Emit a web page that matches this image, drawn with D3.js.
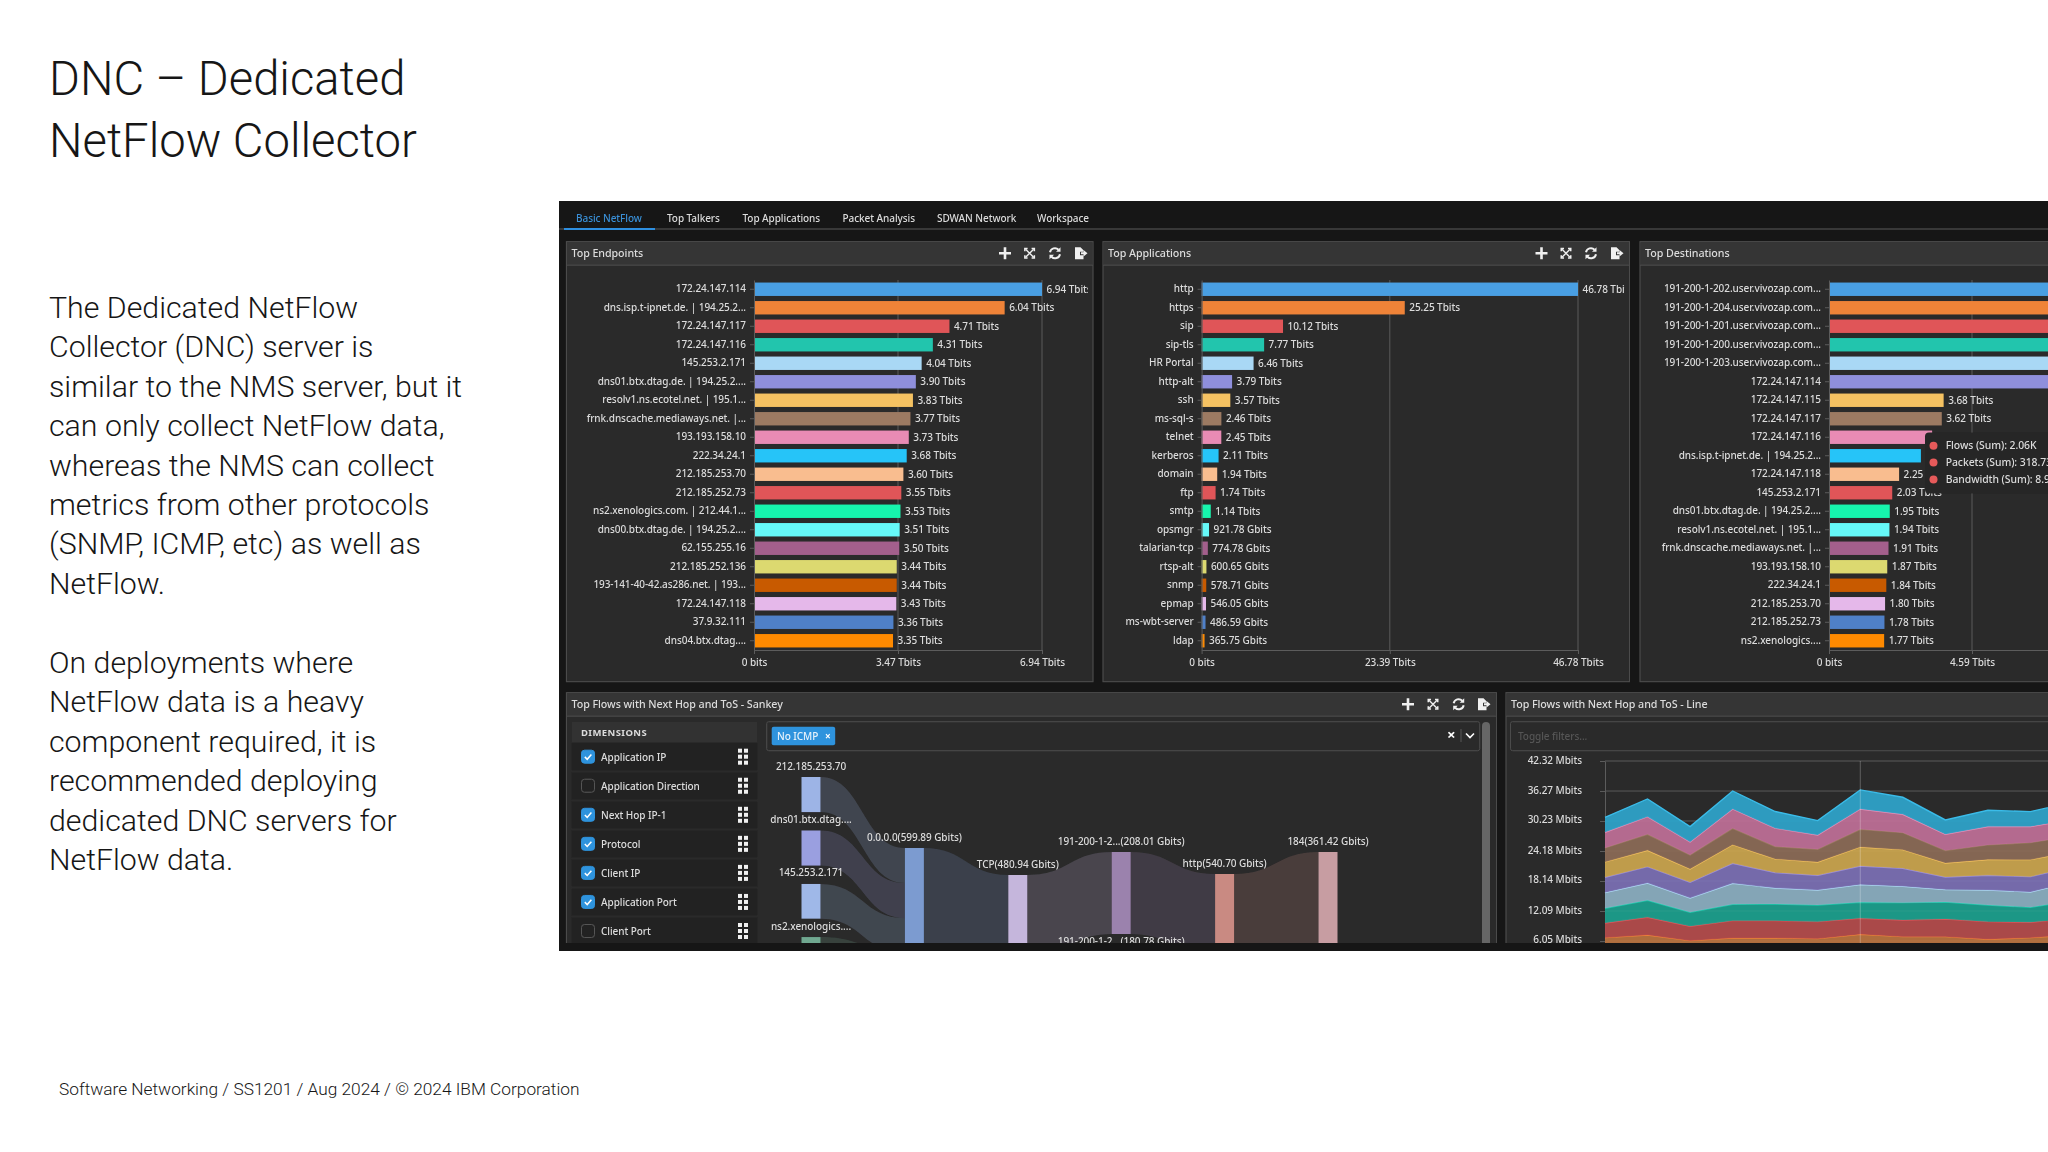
<!DOCTYPE html>
<html lang="en">
<head>
<meta charset="UTF-8" />
<title>DNC – Dedicated NetFlow Collector</title>
<script src="https://d3js.org/d3.v7.min.js"></script>
<style>
  html, body { margin: 0; padding: 0; background: #fff; }
  svg { display: block; }
  .slide text { font-family: Roboto, sans-serif; font-weight: 300; fill: #161616; }
  .dash text { font-family: "Noto Sans", sans-serif; fill: #dcdcdc; font-size: 10px; font-weight: 500; letter-spacing: -0.06px; }
  .dash .axis path, .dash .axis line { stroke: #5c5c5c; }
  .dash .axis text { fill: #dcdcdc; font-size: 10px; font-family: "Noto Sans", sans-serif; }
</style>
</head>
<body>
<svg id="chart" width="2048" height="1152"></svg>
<script>
// slide text
const titleLines = ["DNC – Dedicated", "NetFlow Collector"];
const bodyLines = [
  "The Dedicated NetFlow", "Collector (DNC) server is", "similar to the NMS server, but it",
  "can only collect NetFlow data,", "whereas the NMS can collect", "metrics from other protocols",
  "(SNMP, ICMP, etc) as well as", "NetFlow."
];
const bodyLines2 = [
  "On deployments where", "NetFlow data is a heavy", "component required, it is",
  "recommended deploying", "dedicated DNC servers for", "NetFlow data."
];
const footerText = "Software Networking / SS1201 / Aug 2024 / © 2024 IBM Corporation";

const tabs = ["Basic NetFlow", "Top Talkers", "Top Applications", "Packet Analysis", "SDWAN Network", "Workspace"];

// bars, values in Tbits
const barColors = ["#4a9fe3", "#ef8339", "#e05558", "#22c5ad", "#a9d8f5", "#8f8fdc", "#f5c262", "#9c7a62", "#e88bb4", "#27c4f8",
  "#f9bd8f", "#e05558", "#19f5ad", "#66f9f9", "#a35f8c", "#dcd970", "#c85a00", "#e5b8ea", "#4f80c8", "#ff8a00"];

const endpointNames = ["172.24.147.114", "dns.isp.t-ipnet.de. | 194.25.2...", "172.24.147.117", "172.24.147.116", "145.253.2.171",
  "dns01.btx.dtag.de. | 194.25.2....", "resolv1.ns.ecotel.net. | 195.1...", "frnk.dnscache.mediaways.net. |...", "193.193.158.10", "222.34.24.1",
  "212.185.253.70", "212.185.252.73", "ns2.xenologics.com. | 212.44.1...", "dns00.btx.dtag.de. | 194.25.2....", "62.155.255.16",
  "212.185.252.136", "193-141-40-42.as286.net. | 193...", "172.24.147.118", "37.9.32.111", "dns04.btx.dtag...."];
const endpointValues = [6.94, 6.04, 4.71, 4.31, 4.04, 3.90, 3.83, 3.77, 3.73, 3.68, 3.60, 3.55, 3.53, 3.51, 3.50, 3.44, 3.44, 3.43, 3.36, 3.35];
const endpointTicks = [0, 3.47, 6.94];

const appNames = ["http", "https", "sip", "sip-tls", "HR Portal", "http-alt", "ssh", "ms-sql-s", "telnet", "kerberos",
  "domain", "ftp", "smtp", "opsmgr", "talarian-tcp", "rtsp-alt", "snmp", "epmap", "ms-wbt-server", "ldap"];
const appValues = [46.78, 25.25, 10.12, 7.77, 6.46, 3.79, 3.57, 2.46, 2.45, 2.11, 1.94, 1.74, 1.14, 0.92178, 0.77478, 0.60065, 0.57871, 0.54605, 0.48659, 0.36575];
const appTicks = [0, 23.39, 46.78];

const destNames = ["191-200-1-202.user.vivozap.com...", "191-200-1-204.user.vivozap.com...", "191-200-1-201.user.vivozap.com...",
  "191-200-1-200.user.vivozap.com...", "191-200-1-203.user.vivozap.com...", "172.24.147.114", "172.24.147.115", "172.24.147.117",
  "172.24.147.116", "dns.isp.t-ipnet.de. | 194.25.2...", "172.24.147.118", "145.253.2.171", "dns01.btx.dtag.de. | 194.25.2....",
  "resolv1.ns.ecotel.net. | 195.1...", "frnk.dnscache.mediaways.net. |...", "193.193.158.10", "222.34.24.1", "212.185.253.70",
  "212.185.252.73", "ns2.xenologics...."];
// the first six run off the page and one sits under the tooltip, so those are estimates
const destValues = [9.18, 9.05, 8.96, 8.9, 8.8, 7.6, 3.68, 3.62, 3.31, 2.95, 2.25, 2.03, 1.95, 1.94, 1.91, 1.87, 1.84, 1.80, 1.78, 1.77];
const destTicks = [0, 4.59, 9.18];
const destHiddenLabels = ["dns.isp.t-ipnet.de. | 194.25.2..."];
const tooltipRows = ["Flows (Sum): 2.06K", "Packets (Sum): 318.73M", "Bandwidth (Sum): 8.96 Tbits"];

// sankey
const dimensionNames = ["Application IP", "Application Direction", "Next Hop IP-1", "Protocol", "Client IP", "Application Port", "Client Port"];
const dimensionChecked = [true, false, true, true, true, true, false];
const sankeyNodes = [
  { name: "212.185.253.70", col: 0, value: 89, color: "#9db4e6" },
  { name: "dns01.btx.dtag....", col: 0, value: 89, color: "#9a9fe0" },
  { name: "145.253.2.171", col: 0, value: 88, color: "#9fb8e8" },
  { name: "ns2.xenologics....", col: 0, value: 88, color: "#6fa890" },
  { name: "0.0.0.0(599.89 Gbits)", col: 1, value: 599.89, color: "#7b9bd0" },
  { name: "TCP(480.94 Gbits)", col: 2, value: 480.94, color: "#c5b6dc" },
  { name: "191-200-1-2...(208.01 Gbits)", col: 3, value: 208.01, color: "#9b82ad" },
  { name: "191-200-1-2...(180.78 Gbits)", col: 3, value: 180.78, color: "#9b82ad" },
  { name: "http(540.70 Gbits)", col: 4, value: 540.70, color: "#c98a82" },
  { name: "184(361.42 Gbits)", col: 5, value: 361.42, color: "#c79da2" }
];
const sankeyLinks = [[0, 4, 89], [1, 4, 89], [2, 4, 88], [3, 4, 88], [4, 5, 480.94], [5, 6, 208.01], [5, 7, 180.78], [6, 8, 208.01], [7, 8, 180.78], [8, 9, 361.42]];

// stacked area, Mbits per layer, bottom layer first
const areaTicks = [6.05, 12.09, 18.14, 24.18, 30.23, 36.27, 42.32];
const orangeLayer = [6.72, 7.26, 6.12, 6.66, 6.66, 6.52, 7.39, 6.92, 6.92, 6.39, 6.72, 7.26];
const redLayer = [2.96, 3.56, 2.89, 3.49, 3.49, 3.43, 3.23, 3.36, 3.56, 3.56, 3.09, 3.36];
const tealLayer = [2.96, 3.43, 2.82, 3.29, 3.36, 3.36, 3.23, 3.49, 3.43, 3.36, 3.02, 3.56];
const skyLayer = [3.16, 3.49, 2.89, 4.23, 3.23, 3.02, 3.56, 3.29, 2.49, 3.02, 3.09, 3.76];
const purpleLayer = [3.09, 3.29, 3.16, 4.03, 3.09, 2.96, 3.76, 3.63, 2.55, 2.96, 3.09, 3.09];
const yellowLayer = [3.09, 3.29, 2.69, 3.76, 2.76, 2.69, 3.83, 3.76, 2.82, 3.16, 3.43, 3.09];
const brownLayer = [2.82, 3.23, 2.82, 3.29, 2.49, 2.55, 3.56, 3.43, 2.49, 2.96, 3.43, 3.09];
const pinkLayer = [3.16, 3.56, 2.62, 3.90, 3.70, 2.89, 4.10, 3.70, 3.29, 3.70, 3.23, 3.36];
const blueLayer = [3.02, 3.56, 3.09, 3.63, 3.36, 2.89, 3.83, 3.43, 2.89, 3.29, 3.02, 3.49];
const areaLayers = [orangeLayer, redLayer, tealLayer, skyLayer, purpleLayer, yellowLayer, brownLayer, pinkLayer, blueLayer];
const areaFills = ["#b87240", "#b34a4a", "#1f9e8c", "#8aadbf", "#7a70b3", "#c9a44f", "#8a6a55", "#bd6f96", "#2ea3c9"];
const areaStrokes = ["#ee8138", "#e0555a", "#20c9ad", "#add8f5", "#9c8fdc", "#f5c15e", "#9a7a60", "#e88fb8", "#3bbbe8"];

const svg = d3.select("#chart");
const defs = svg.append("defs");
defs.append("filter").attr("id", "soft").attr("x", 0).attr("y", 0).attr("width", 1).attr("height", 1)
  .append("feGaussianBlur").attr("stdDeviation", 0.45);
function addClip(id, x, y, w, h) {
  defs.append("clipPath").attr("id", id).append("rect").attr("x", x).attr("y", y).attr("width", w).attr("height", h);
}

svg.append("rect").attr("width", 2048).attr("height", 1152).attr("fill", "#fff");

// left side of the slide
const slide = svg.append("g").attr("class", "slide");
slide.selectAll(".title").data(titleLines).enter().append("text").attr("class", "title")
  .attr("x", 49).attr("y", (d, i) => 95 + i * 62).attr("font-size", 47.2).text(d => d);
function paragraph(lines, startY) {
  slide.selectAll(null).data(lines).enter().append("text")
    .attr("x", 49).attr("y", (d, i) => startY + i * 39.4).attr("font-size", 30.3).text(d => d);
}
paragraph(bodyLines, 318);
paragraph(bodyLines2, 673);
slide.append("text").attr("x", 59).attr("y", 1095).attr("font-size", 17.3).text(footerText);

// dashboard screenshot
addClip("shot", 559, 201, 1489, 750);
const dash = svg.append("g").attr("class", "dash").attr("clip-path", "url(#shot)").append("g").attr("filter", "url(#soft)");
dash.append("rect").attr("x", 559).attr("y", 201).attr("width", 1489).attr("height", 750).attr("fill", "#151515");

// tab bar
const tabX = [576, 667, 742.5, 842.5, 937, 1037];
dash.selectAll(".tab").data(tabs).enter().append("text").attr("class", "tab")
  .attr("x", (d, i) => tabX[i]).attr("y", 222).style("fill", (d, i) => i ? "#dcdcdc" : "#3a8fd6").text(d => d);
dash.append("line").attr("x1", 559).attr("x2", 2048).attr("y1", 229).attr("y2", 229).attr("stroke", "#444").attr("stroke-width", 1.5);
dash.append("line").attr("x1", 564).attr("x2", 655).attr("y1", 229).attr("y2", 229).attr("stroke", "#2f8fe0").attr("stroke-width", 2);

function icons(g, xs, y) {
  const c = "#f0f0f0";
  // plus
  g.append("path").attr("d", `M${xs[0] - 6},${y}H${xs[0] + 6}M${xs[0]},${y - 6}V${y + 6}`).attr("stroke", c).attr("stroke-width", 2.6);
  // expand
  const e = xs[1];
  g.append("path").attr("d", `M${e - 4},${y - 4}L${e + 4},${y + 4}M${e + 4},${y - 4}L${e - 4},${y + 4}`).attr("stroke", c).attr("stroke-width", 1.4);
  g.append("path").attr("d", `M${e - 5.5},${y - 5.5}h3.5v1.5h-2v2h-1.5zM${e + 5.5},${y - 5.5}h-3.5v1.5h2v2h1.5zM${e - 5.5},${y + 5.5}h3.5v-1.5h-2v-2h-1.5zM${e + 5.5},${y + 5.5}h-3.5v-1.5h2v-2h1.5z`).attr("fill", c);
  // refresh
  const r = xs[2];
  g.append("path").attr("d", `M${r - 5},${y - 1}A5,5 0 0 1 ${r + 3.5},${y - 3.5}M${r + 5},${y + 1}A5,5 0 0 1 ${r - 3.5},${y + 3.5}`).attr("fill", "none").attr("stroke", c).attr("stroke-width", 2);
  g.append("path").attr("d", `M${r + 5.5},${y - 6}v4.5h-4.5zM${r - 5.5},${y + 6}v-4.5h4.5z`).attr("fill", c);
  // export
  const x = xs[3];
  g.append("path").attr("d", `M${x - 6},${y - 6}h5.5l3,3v1.5h-3.5v3.5h3.5v4h-8.5z`).attr("fill", c);
  g.append("path").attr("d", `M${x},${y - 1}h2.5v-2.2l4,3.2l-4,3.2v-2.2h-2.5z`).attr("fill", c);
}

function panel(x, y, w, h, title, iconXs) {
  const g = dash.append("g");
  g.append("rect").attr("x", x).attr("y", y).attr("width", w).attr("height", h).attr("fill", "#2a2a2a").attr("stroke", "#4c4c4c").attr("stroke-width", 1.2);
  g.append("rect").attr("x", x + .6).attr("y", y + .6).attr("width", w - 1.2).attr("height", 23).attr("fill", "#363636");
  g.append("line").attr("x1", x).attr("x2", x + w).attr("y1", y + 23.5).attr("y2", y + 23.5).attr("stroke", "#4c4c4c");
  g.append("text").attr("x", x + 5).attr("y", y + 15.5).style("font-size", "10.7px").text(title);
  if (iconXs) icons(g, iconXs, y + 11.5);
  return g;
}

function fmtBits(v) {
  if (v === 0) return "0 bits";
  return v >= 1 ? v.toFixed(2) + " Tbits" : (v * 1000).toFixed(2) + " Gbits";
}

function barPanel(p, id, names, values, ticks, x0, x1, clipX, clipW, hiddenLabels = []) {
  addClip(id, clipX, 266, clipW, 416);
  const g = p.append("g").attr("clip-path", `url(#${id})`);
  const x = d3.scaleLinear().domain([0, ticks[2]]).range([x0, x1]);
  const y = d3.scaleBand().domain(names).range([280, 650]);
  const right = clipX + clipW;
  g.append("g").selectAll("line").data(ticks.slice(1)).enter().append("line")
    .attr("x1", d => x(d)).attr("x2", d => x(d)).attr("y1", 280).attr("y2", 650).attr("stroke", "#5c5c5c");
  const rows = names.map((name, i) => ({ name, value: values[i], color: barColors[i] }));
  g.selectAll(".bar").data(rows).enter().append("rect").attr("class", "bar")
    .attr("x", x0).attr("y", d => y(d.name) + (y.bandwidth() - 13.4) / 2)
    .attr("width", d => x(d.value) - x0).attr("height", 13.4).attr("fill", d => d.color);
  // labels past the page edge or under the tooltip are not drawn
  g.selectAll(".val").data(rows.filter(d => x(d.value) + 4.5 < right && !hiddenLabels.includes(d.name))).enter().append("text").attr("class", "val")
    .attr("x", d => x(d.value) + 4.5).attr("y", d => y(d.name) + y.bandwidth() / 2).attr("dy", "0.33em").text(d => fmtBits(d.value));
  g.append("g").attr("class", "axis").attr("transform", `translate(${x0},0)`)
    .call(d3.axisLeft(y).tickSize(4).tickPadding(4).tickSizeOuter(0));
  g.append("g").attr("class", "axis").attr("transform", "translate(0,650)")
    .call(d3.axisBottom(x).tickValues(ticks.filter(t => x(t) < right)).tickSize(4).tickPadding(4.5).tickSizeOuter(0).tickFormat(fmtBits));
  if (x(ticks[2]) > right) {
    g.append("line").attr("x1", x0).attr("x2", right).attr("y1", 650.5).attr("y2", 650.5).attr("stroke", "#5c5c5c");
  }
}

const p1 = panel(566.5, 241.7, 526.5, 440, "Top Endpoints", [1005, 1029.6, 1055, 1081]);
barPanel(p1, "c1", endpointNames, endpointValues, endpointTicks, 754, 1042, 567, 521);
const p2 = panel(1103, 241.7, 526.5, 440, "Top Applications", [1541.5, 1566, 1591, 1617]);
barPanel(p2, "c2", appNames, appValues, appTicks, 1201.6, 1578, 1104, 521);
const p3 = panel(1640, 241.7, 520, 440, "Top Destinations");
barPanel(p3, "c3", destNames, destValues, destTicks, 1829, 2115, 1641, 407, destHiddenLabels);

// tooltip over the destinations bars
const tip = dash.append("g");
tip.append("rect").attr("x", 1925).attr("y", 432.5).attr("width", 140).attr("height", 61).attr("rx", 4).attr("fill", "#262626");
tip.selectAll("circle").data(tooltipRows).enter().append("circle")
  .attr("cx", 1933.5).attr("cy", (d, i) => 445.7 + i * 16.9).attr("r", 4).attr("fill", "#e65a5a");
tip.selectAll("text").data(tooltipRows).enter().append("text")
  .attr("x", 1945.7).attr("y", (d, i) => 445.7 + i * 16.9).attr("dy", "0.35em").style("font-size", "10.4px").text(d => d);

// sankey panel
panel(566.5, 692.7, 930, 270, "Top Flows with Next Hop and ToS - Sankey", [1408, 1433, 1458.7, 1484]);
addClip("c4", 560, 717, 940, 226);
const sk = dash.append("g").attr("clip-path", "url(#c4)");
sk.append("rect").attr("x", 571.7).attr("y", 722).attr("width", 185.5).attr("height", 20).attr("fill", "#333");
sk.append("text").attr("x", 581).attr("y", 735.5).style("font-weight", 700).style("font-size", "9.5px").style("letter-spacing", "0.4px").text("DIMENSIONS");
const dimY = d3.scalePoint().domain(dimensionNames).range([756.7, 931]);
const rows = sk.selectAll(".dim").data(dimensionNames).enter().append("g").attr("class", "dim")
  .attr("transform", d => `translate(0,${dimY(d)})`);
rows.append("rect").attr("x", 571.7).attr("y", -13.5).attr("width", 185.5).attr("height", 27).attr("fill", "#242424");
rows.append("rect").attr("x", 581.5).attr("y", -6.5).attr("width", 13).attr("height", 13).attr("rx", 3)
  .attr("fill", (d, i) => dimensionChecked[i] ? "#2f93dd" : "none")
  .attr("stroke", (d, i) => dimensionChecked[i] ? "#2f93dd" : "#555");
rows.filter((d, i) => dimensionChecked[i]).append("path").attr("d", "M584.8,0.2l2.4,2.4l4.2,-4.8").attr("fill", "none").attr("stroke", "#fff").attr("stroke-width", 1.5);
rows.append("text").attr("x", 601).attr("dy", "0.4em").text(d => d);
[-6, 0, 6].forEach(dy => [-3, 3].forEach(dx => {
  rows.append("rect").attr("x", 743 + dx - 2).attr("y", dy - 2).attr("width", 4).attr("height", 4).attr("fill", "#f0f0f0");
}));

// filter box
sk.append("rect").attr("x", 766.7).attr("y", 721.7).attr("width", 713).attr("height", 29).attr("rx", 2).attr("fill", "#2a2a2a").attr("stroke", "#4c4c4c");
sk.append("rect").attr("x", 771.7).attr("y", 726.7).attr("width", 63.5).attr("height", 18.5).attr("rx", 2).attr("fill", "#2f93dd");
sk.append("text").attr("x", 777).attr("y", 739.5).style("fill", "#e6f2fb").text("No ICMP");
sk.append("text").attr("x", 825).attr("y", 739.5).style("fill", "#fff").style("font-weight", 700).text("×");
sk.append("text").attr("x", 1447).attr("y", 740).style("fill", "#fff").style("font-size", "15px").style("font-weight", 700).text("×");
sk.append("line").attr("x1", 1461).attr("x2", 1461).attr("y1", 729).attr("y2", 742).attr("stroke", "#555");
sk.append("path").attr("d", "M1466,733.5l4,4l4,-4").attr("fill", "none").attr("stroke", "#fff").attr("stroke-width", 1.6);
sk.append("rect").attr("x", 1482).attr("y", 722).attr("width", 8).attr("height", 240).attr("rx", 4).attr("fill", "#666");

addClip("c5", 766, 751, 714, 192);
const flow = sk.append("g").attr("clip-path", "url(#c5)");
const colX = d3.scalePoint().domain([0, 1, 2, 3, 4, 5]).range([811, 1328]);
const colTop = [777, 848, 875, 852, 874, 852];
const colGap = 18.4;
const nodeH = d3.scaleLinear().domain([0, 208.01]).range([0, 82]);
const nextTop = colTop.slice();
sankeyNodes.forEach(n => {
  n.top = nextTop[n.col];
  n.h = nodeH(n.value);
  nextTop[n.col] += n.h + colGap;
  n.outY = n.top;
  n.inY = n.top;
});
const ribbon = d3.area().x(d => d.x).y0(d => d.y0).y1(d => d.y1).curve(d3.curveBumpX);
sankeyLinks.forEach(l => {
  const s = sankeyNodes[l[0]], t = sankeyNodes[l[1]], h = nodeH(l[2]);
  flow.append("path").attr("fill", s.color).attr("fill-opacity", 0.2).attr("d", ribbon([
    { x: colX(s.col) + 9.5, y0: s.outY, y1: s.outY + h },
    { x: colX(t.col) - 9.5, y0: t.inY, y1: t.inY + h }
  ]));
  s.outY += h;
  t.inY += h;
});
flow.selectAll(".node").data(sankeyNodes).enter().append("rect").attr("class", "node")
  .attr("x", d => colX(d.col) - 9.5).attr("y", d => d.top).attr("width", 19).attr("height", d => d.h).attr("fill", d => d.color);
flow.selectAll(".lab").data(sankeyNodes).enter().append("text").attr("class", "lab")
  .attr("x", d => colX(d.col)).attr("y", d => d.top - 11).attr("dy", "0.35em").attr("text-anchor", "middle").text(d => d.name);

// stacked area panel
panel(1506, 692.7, 560, 270, "Top Flows with Next Hop and ToS - Line");
addClip("c6", 1507, 717, 541, 226);
const ar = dash.append("g").attr("clip-path", "url(#c6)");
ar.append("rect").attr("x", 1510.5).attr("y", 721.7).attr("width", 560).attr("height", 29).attr("rx", 2).attr("fill", "#2a2a2a").attr("stroke", "#4c4c4c");
ar.append("text").attr("x", 1518).attr("y", 740).style("fill", "#555").text("Toggle filters...");
const ax = d3.scaleLinear().domain([0, 11]).range([1605, 2073]);
const ay = d3.scaleLinear().domain([0, 42.32]).range([971, 761]);
ar.append("g").attr("class", "axis").attr("transform", "translate(1605,0)")
  .call(d3.axisLeft(ay).tickValues(areaTicks).tickSize(5).tickPadding(18).tickSizeOuter(0).tickFormat(d => d.toFixed(2) + " Mbits"))
  .selectAll("text").attr("dy", "0.2em");
ar.append("g").selectAll("line").data(areaTicks).enter().append("line")
  .attr("x1", 1605).attr("x2", 2048).attr("y1", d => ay(d)).attr("y2", d => ay(d)).attr("stroke", "#5c5c5c");
const stackRows = d3.range(12).map(i => {
  const r = {};
  areaLayers.forEach((s, k) => { r[k] = s[i]; });
  return r;
});
const stacked = d3.stack().keys(areaLayers.map((s, k) => k))(stackRows);
const areaGen = d3.area().x((d, i) => ax(i)).y0(d => ay(d[0])).y1(d => ay(d[1]));
const topLine = d3.line().x((d, i) => ax(i)).y(d => ay(d[1]));
const layers = ar.selectAll(".layer").data(stacked).enter().append("g").attr("class", "layer");
layers.append("path").attr("d", areaGen).attr("fill", (d, i) => areaFills[i]).attr("fill-opacity", 0.94);
layers.append("path").attr("d", topLine).attr("fill", "none").attr("stroke", (d, i) => areaStrokes[i]).attr("stroke-width", 1.4);
ar.append("line").attr("x1", ax(6)).attr("x2", ax(6)).attr("y1", 761).attr("y2", 943).attr("stroke", "#fff").attr("stroke-opacity", 0.25);

// dark strip at the bottom of the screenshot
dash.append("rect").attr("x", 559).attr("y", 943).attr("width", 1489).attr("height", 8).attr("fill", "#151515");
</script>
</body>
</html>
